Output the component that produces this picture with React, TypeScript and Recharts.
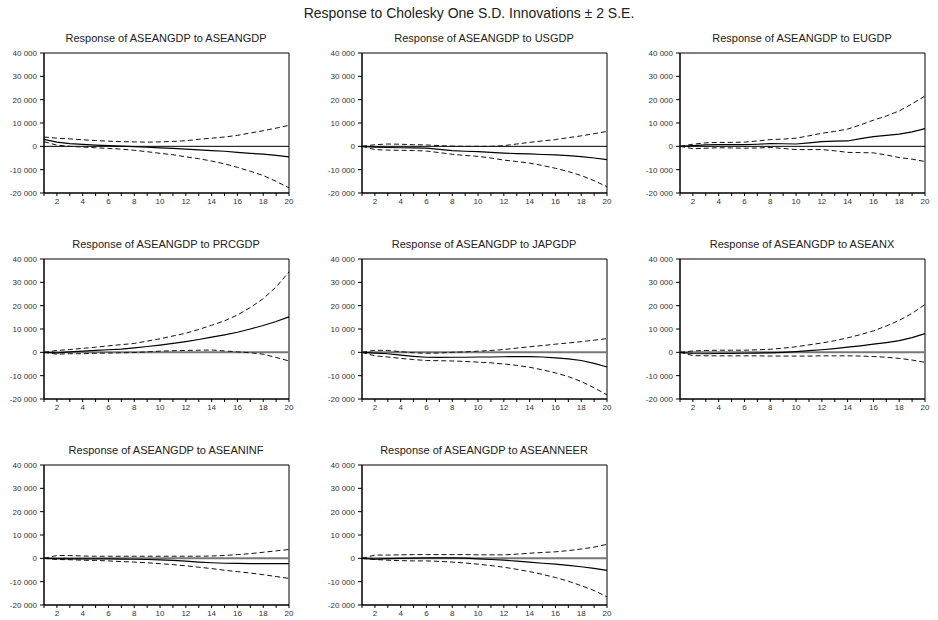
import React from 'react';
import { LineChart, Line, XAxis, YAxis, ReferenceLine, ReferenceArea } from 'recharts';

// periods 1..20
const periods = [1, 2, 3, 4, 5, 6, 7, 8, 9, 10, 11, 12, 13, 14, 15, 16, 17, 18, 19, 20];
const yTicks = [-20000, -10000, 0, 10000, 20000, 30000, 40000];

const shockNames = ['ASEANGDP', 'USGDP', 'EUGDP', 'PRCGDP', 'JAPGDP', 'ASEANX', 'ASEANINF', 'ASEANNEER'];

// response, upper band, lower band for each shock
const aseanGdpResp = [3000, 1800, 1200, 800, 500, 300, 100, -100, -400, -700, -900, -1200, -1500, -1800, -2100, -2600, -3000, -3300, -3900, -4500];
const aseanGdpUpper = [4000, 3500, 3200, 2800, 2500, 2200, 2000, 1900, 1800, 1900, 2100, 2400, 3000, 3500, 4000, 4700, 5700, 6700, 7800, 9000];
const aseanGdpLower = [2000, 500, 0, -300, -600, -900, -1200, -1700, -2300, -3000, -3600, -4500, -5300, -6300, -7500, -9000, -10700, -12500, -15000, -17800];

const usGdpResp = [0, -300, -500, -600, -700, -800, -1300, -1800, -2100, -2300, -2600, -2900, -3100, -3200, -3500, -3700, -4000, -4400, -5000, -5700];
const usGdpUpper = [0, 700, 1000, 900, 700, 600, 300, 100, 0, 0, 0, 300, 1000, 1700, 2300, 2900, 3700, 4500, 5400, 6400];
const usGdpLower = [0, -1400, -1600, -1700, -1800, -2000, -2700, -3400, -3900, -4300, -5000, -5900, -6500, -7200, -8200, -9400, -10800, -12500, -14700, -17300];

const euGdpResp = [0, 300, 600, 700, 700, 700, 900, 1200, 1100, 1000, 1500, 2000, 2200, 2300, 3300, 4200, 4700, 5200, 6200, 7600];
const euGdpUpper = [0, 900, 1500, 1700, 1700, 1800, 2300, 2900, 3100, 3500, 4500, 5600, 6400, 7400, 9200, 11200, 13000, 15200, 18200, 21600];
const euGdpLower = [0, -1000, -800, -600, -700, -800, -700, -500, -900, -1400, -1400, -1400, -1900, -2600, -2700, -2800, -3700, -4800, -5500, -6500];

const prcGdpResp = [0, -200, 200, 500, 800, 1100, 1400, 1900, 2500, 3100, 3800, 4600, 5500, 6500, 7500, 8600, 10000, 11500, 13200, 15200];
const prcGdpUpper = [0, 800, 1200, 1700, 2200, 2800, 3300, 3800, 4800, 5800, 7000, 8200, 9800, 11600, 13500, 16000, 19200, 23000, 28000, 34500];
const prcGdpLower = [0, -800, -600, -600, -400, -300, -200, -100, 200, 500, 700, 800, 900, 1000, 600, 200, -200, -800, -2200, -3700];

const japGdpResp = [0, -300, -600, -1200, -1700, -2100, -2200, -2100, -2100, -2000, -2000, -1900, -1800, -1800, -2000, -2400, -2800, -3500, -4700, -6300];
const japGdpUpper = [0, 900, 800, 300, -200, -400, -300, 0, 200, 500, 800, 1200, 1800, 2400, 2900, 3500, 4000, 4600, 5200, 5900];
const japGdpLower = [0, -1500, -2000, -2600, -3100, -3500, -3600, -3700, -3900, -4200, -4500, -5000, -5600, -6400, -7500, -8800, -10400, -12500, -15200, -18200];

const aseanXResp = [0, -500, -600, -500, -500, -400, -300, -200, 0, 300, 700, 1100, 1600, 2200, 2800, 3500, 4200, 5000, 6300, 8000];
const aseanXUpper = [0, 600, 800, 900, 900, 900, 1100, 1300, 1800, 2400, 3200, 4000, 5000, 6200, 7600, 9200, 11300, 13700, 16700, 20500];
const aseanXLower = [0, -1400, -1500, -1500, -1500, -1500, -1500, -1600, -1600, -1600, -1600, -1500, -1500, -1500, -1600, -1800, -2100, -2600, -3300, -4300];

const aseanInfResp = [0, -100, -200, -200, -200, -200, -300, -400, -500, -700, -900, -1200, -1600, -1900, -2100, -2200, -2300, -2300, -2300, -2300];
const aseanInfUpper = [0, 1200, 1200, 1000, 900, 900, 900, 900, 900, 900, 900, 900, 900, 1000, 1200, 1600, 2000, 2600, 3200, 3800];
const aseanInfLower = [0, -500, -600, -800, -900, -1100, -1400, -1600, -1900, -2300, -2700, -3200, -3800, -4400, -5100, -5700, -6300, -7000, -7800, -8600];

const aseanNeerResp = [0, -300, -100, 0, 100, 200, 200, 200, 100, -200, -500, -800, -1200, -1600, -2100, -2500, -3000, -3600, -4300, -5200];
const aseanNeerUpper = [0, 1400, 1400, 1500, 1600, 1600, 1600, 1600, 1600, 1500, 1500, 1500, 1800, 2200, 2500, 2800, 3300, 4000, 4800, 6000];
const aseanNeerLower = [0, -500, -800, -1000, -1100, -1100, -1300, -1600, -2000, -2500, -3100, -3800, -4700, -5700, -6900, -8200, -9800, -11700, -13800, -16500];

const series = [
  [aseanGdpResp, aseanGdpUpper, aseanGdpLower],
  [usGdpResp, usGdpUpper, usGdpLower],
  [euGdpResp, euGdpUpper, euGdpLower],
  [prcGdpResp, prcGdpUpper, prcGdpLower],
  [japGdpResp, japGdpUpper, japGdpLower],
  [aseanXResp, aseanXUpper, aseanXLower],
  [aseanInfResp, aseanInfUpper, aseanInfLower],
  [aseanNeerResp, aseanNeerUpper, aseanNeerLower],
];

const colLeft = [43.5, 361.5, 679.5];
const rowTop = [53, 259, 465];
const PLOT_W = 245;
const PLOT_H = 140;
const Y_W = 40;

const font = '"Liberation Sans", Arial, sans-serif';

const fmt = (v: number) => {
  const s = Math.abs(v).toString().replace(/\B(?=(\d{3})+(?!\d))/g, ' ');
  return (v < 0 ? '-' : '') + s;
};

// plain svg text so the "40 000" labels don't get wrapped
const YTick = (props: any) => {
  const { x, y, payload } = props;
  return (
    <text x={x} y={y} dy={3} textAnchor="end" fontSize={8} fill="#333" fontFamily={font}>
      {fmt(payload.value)}
    </text>
  );
};

const XTick = (props: any) => {
  const { x, y, payload } = props;
  if (payload.value % 2 !== 0) return null;
  return (
    <text x={x} y={y} dy={6} textAnchor="middle" fontSize={8} fill="#333" fontFamily={font}>
      {payload.value}
    </text>
  );
};

const Panel = ({ idx }: { idx: number }) => {
  const [resp, upper, lower] = series[idx];
  const data = periods.map((t, i) => ({ t, resp: resp[i], upper: upper[i], lower: lower[i] }));
  const left = colLeft[idx % 3];
  const top = rowTop[Math.floor(idx / 3)];
  const firstRow = idx < 3;

  return (
    <>
      <div
        style={{
          position: 'absolute',
          left,
          top: top - 22,
          width: PLOT_W,
          textAlign: 'center',
          fontSize: 11,
          lineHeight: '14px',
          color: '#222',
        }}
      >
        Response of ASEANGDP to {shockNames[idx]}
      </div>
      <div style={{ position: 'absolute', left: left - Y_W, top: top - 5 }}>
        <LineChart
          width={Y_W + PLOT_W + 5}
          height={5 + PLOT_H + 17}
          data={data}
          margin={{ top: 5, right: 5, bottom: 0, left: 0 }}
        >
          <XAxis
            dataKey="t"
            type="number"
            domain={[1, 20]}
            ticks={periods}
            interval={0}
            height={17}
            tickSize={3}
            tickMargin={2}
            stroke="#000"
            tick={<XTick />}
          />
          <YAxis
            type="number"
            domain={[-20000, 40000]}
            ticks={yTicks}
            interval={0}
            width={Y_W}
            tickSize={4}
            tickMargin={3}
            stroke="#000"
            tick={<YTick />}
          />
          <ReferenceArea
            x1={1}
            x2={20}
            y1={-20000}
            y2={40000}
            fill="none"
            stroke="#000"
            strokeWidth={1}
            ifOverflow="visible"
          />
          <ReferenceLine
            y={0}
            stroke={firstRow ? '#000' : '#777'}
            strokeWidth={firstRow ? 1 : 2}
          />
          <Line type="linear" dataKey="upper" stroke="#111" strokeWidth={1} strokeDasharray="5 3" dot={false} isAnimationActive={false} />
          <Line type="linear" dataKey="lower" stroke="#111" strokeWidth={1} strokeDasharray="5 3" dot={false} isAnimationActive={false} />
          <Line type="linear" dataKey="resp" stroke="#000" strokeWidth={1.2} dot={false} isAnimationActive={false} />
        </LineChart>
      </div>
    </>
  );
};

export default function App() {
  return (
    <div
      style={{
        position: 'absolute',
        left: 0,
        top: 0,
        width: 938,
        height: 620,
        background: '#fff',
        fontFamily: font,
      }}
    >
      <div
        style={{
          position: 'absolute',
          left: 0,
          top: 4,
          width: 938,
          textAlign: 'center',
          fontSize: 14,
          lineHeight: '18px',
          color: '#222',
        }}
      >
        Response to Cholesky One S.D. Innovations ± 2 S.E.
      </div>
      {shockNames.map((_, i) => (
        <Panel key={i} idx={i} />
      ))}
    </div>
  );
}
